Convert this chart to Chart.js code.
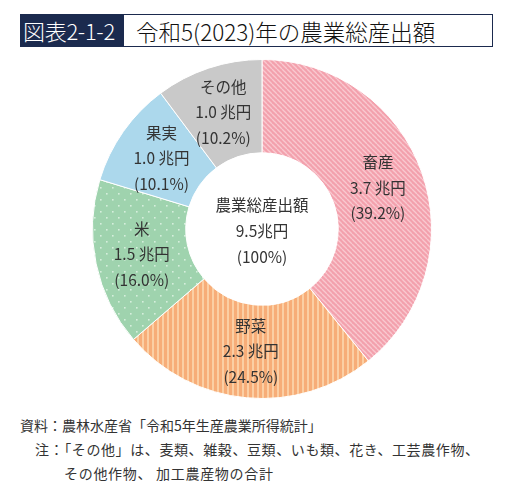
<!DOCTYPE html>
<html lang="ja">
<head>
<meta charset="utf-8">
<script src="https://cdn.jsdelivr.net/npm/chart.js@4/dist/chart.umd.min.js"></script>
<style>
    html, body { margin: 0; padding: 0; background: #fff; }
    body { width: 531px; height: 492px; position: relative; overflow: hidden;
        font-family: "Noto Sans CJK JP", "Noto Sans", sans-serif; color: #333; }
    #title { position: absolute; left: 20px; top: 14px; width: 473px; height: 33px;
        border: 1.5px solid #1b2a4e; box-sizing: border-box; display: flex; align-items: center; }
    #title .tag { background: #1b2a4e; color: #fff; height: 100%; width: 103px; box-sizing: border-box;
        padding-left: 2px; font-size: 22px; line-height: 30px; font-weight: 300; letter-spacing: -0.3px; }
    #title .name { color: #111; font-size: 22.5px; padding-left: 12px; line-height: 30px; font-weight: 300; }
    #chart-wrap { position: absolute; left: 92px; top: 59px; width: 340px; height: 340px; }
    #notes { position: absolute; left: 20px; top: 413px; font-size: 14px; line-height: 24px; color: #333; }
    #notes div { white-space: nowrap; }
</style>
</head>
<body>
<div id="title"><span class="tag">図表2-1-2</span><span class="name">令和5(2023)年の農業総産出額</span></div>
<div id="chart-wrap"><canvas id="donut"></canvas></div>
<div id="notes">
    <div>資料：農林水産省「令和5年生産農業所得統計」</div>
    <div style="padding-left:15px;letter-spacing:0.6px">注：「その他」は、麦類、雑穀、豆類、いも類、花き、工芸農作物、</div>
    <div style="padding-left:44px;letter-spacing:0.7px">その他作物、 加工農産物の合計</div>
</div>
<script>
const categories = ['畜産', '野菜', '米', '果実', 'その他'];
const amounts = ['3.7', '2.3', '1.5', '1.0', '1.0'];   // 兆円
const shares = [39.2, 24.5, 16.0, 10.1, 10.2];          // %
const totalAmount = '9.5';

function makePattern(kind) {
    const c = document.createElement('canvas');
    const g = c.getContext('2d');
    if (kind === 'diag') {
        c.width = 5; c.height = 5;
        g.fillStyle = '#f3a1ad';
        g.fillRect(0, 0, 5, 5);
        g.strokeStyle = '#f9c9d0';
        g.lineWidth = 1.3;
        for (let k = -5; k <= 10; k += 5) {
            g.beginPath(); g.moveTo(k, 0); g.lineTo(k + 5, 5); g.stroke();
        }
    } else if (kind === 'vert') {
        c.width = 5; c.height = 5;
        g.fillStyle = '#f7ad78';
        g.fillRect(0, 0, 5, 5);
        g.fillStyle = '#fbcfa4';
        g.fillRect(0, 0, 2, 5);
    } else if (kind === 'dots') {
        c.width = 12; c.height = 12;
        g.fillStyle = '#9fd3ae';
        g.fillRect(0, 0, 12, 12);
        g.fillStyle = '#d6eedc';
        g.fillRect(2, 2, 1.6, 1.6);
        g.fillRect(8, 8, 1.6, 1.6);
    }
    return g.createPattern(c, 'repeat');
}

const fills = [makePattern('diag'), makePattern('vert'), makePattern('dots'), '#acd8ec', '#c9c9c9'];

const labelPlugin = {
    id: 'sliceLabels',
    afterDatasetsDraw(chart) {
        const ctx = chart.ctx;
        const meta = chart.getDatasetMeta(0);
        ctx.save();
        ctx.fillStyle = '#333';
        ctx.textAlign = 'center';
        ctx.textBaseline = 'middle';
        ctx.font = '15.5px "Noto Sans CJK JP", sans-serif';
        meta.data.forEach((arc, i) => {
            const p = arc.tooltipPosition();
            const lines = [categories[i], amounts[i] + ' 兆円', '(' + shares[i].toFixed(1) + '%)'];
            lines.forEach((t, j) => ctx.fillText(t, p.x, p.y + (j - 1) * 25.5));
        });
        const first = meta.data[0];
        const cx = first.x, cy = first.y;
        const center = ['農業総産出額', totalAmount + '兆円', '(100%)'];
        center.forEach((t, j) => ctx.fillText(t, cx, cy + 2 + (j - 1) * 26));
        ctx.restore();
    }
};

new Chart(document.getElementById('donut'), {
    type: 'doughnut',
    data: {
        labels: categories,
        datasets: [{
            data: shares,
            backgroundColor: fills,
            borderColor: '#ffffff',
            borderWidth: 1,
        }],
    },
    options: {
        responsive: true,
        maintainAspectRatio: false,
        animation: false,
        cutout: '45%',
        plugins: {
            legend: { display: false },
            tooltip: { enabled: false },
        },
    },
    plugins: [labelPlugin],
});
</script>
</body>
</html>
